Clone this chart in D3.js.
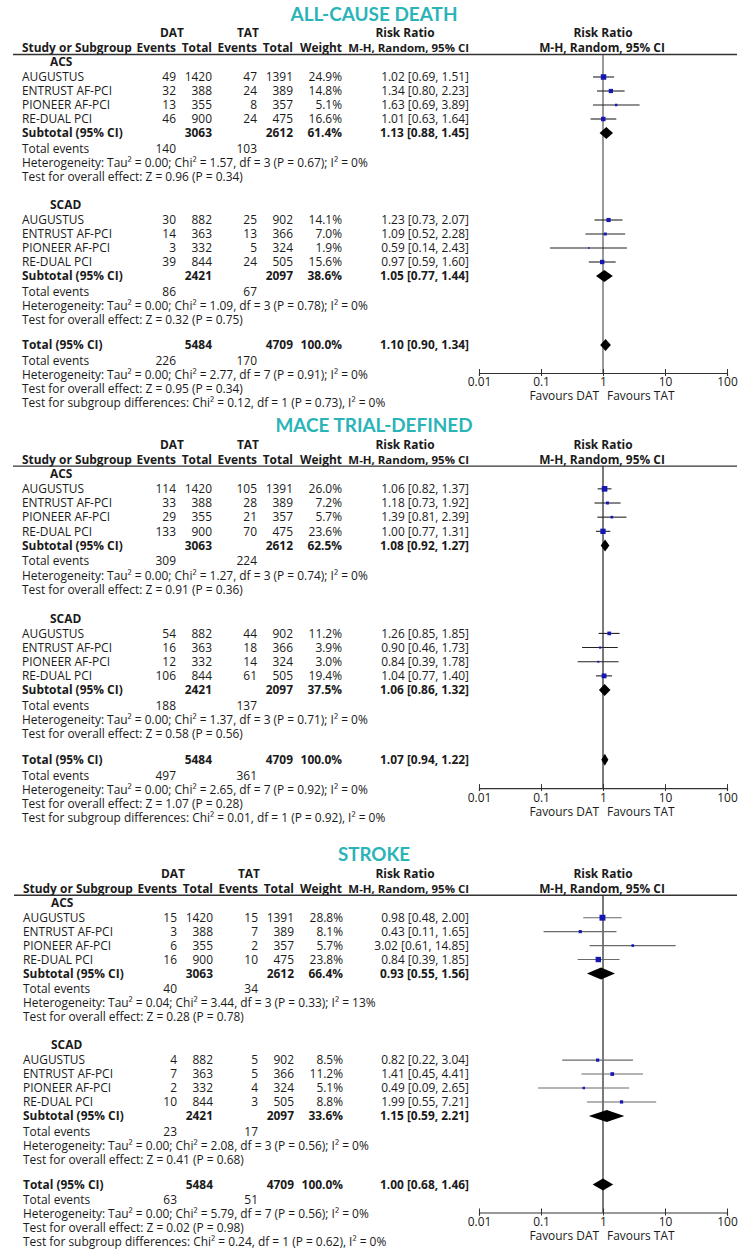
<!DOCTYPE html>
<html><head><meta charset="utf-8">
<script src="https://cdn.jsdelivr.net/npm/d3@7"></script>
<style>body{margin:0;background:#fff} svg{display:block}</style>
</head><body><svg id="c" width="749" height="1251"></svg>
<script>
// ---------------- DATA ----------------
const outcomes = ["ALL-CAUSE DEATH", "MACE TRIAL-DEFINED", "STROKE"];
const subgroups = ["ACS", "SCAD"];
const studies = ["AUGUSTUS", "ENTRUST AF-PCI", "PIONEER AF-PCI", "RE-DUAL PCI"];
const tickValues = [0.01, 0.1, 1, 10, 100];
const tickLabels = ["0.01", "0.1", "1", "10", "100"];

// All-cause death
const deathDatEvents = [[49, 32, 13, 46], [30, 14, 3, 39]];
const deathDatTotal = [[1420, 388, 355, 900], [882, 363, 332, 844]];
const deathTatEvents = [[47, 24, 8, 24], [25, 13, 5, 24]];
const deathTatTotal = [[1391, 389, 357, 475], [902, 366, 324, 505]];
const deathWeight = [[24.9, 14.8, 5.1, 16.6], [14.1, 7.0, 1.9, 15.6]];
const deathRR = [[1.02, 1.34, 1.63, 1.01], [1.23, 1.09, 0.59, 0.97]];
const deathLo = [[0.69, 0.80, 0.69, 0.63], [0.73, 0.52, 0.14, 0.59]];
const deathHi = [[1.51, 2.23, 3.89, 1.64], [2.07, 2.28, 2.43, 1.60]];
const deathSubDatTotal = [3063, 2421];
const deathSubTatTotal = [2612, 2097];
const deathSubWeight = [61.4, 38.6];
const deathSubRR = [1.13, 1.05];
const deathSubLo = [0.88, 0.77];
const deathSubHi = [1.45, 1.44];
const deathSubDatEvents = [140, 86];
const deathSubTatEvents = [103, 67];
const deathSubHet = ["Heterogeneity: Tau² = 0.00; Chi² = 1.57, df = 3 (P = 0.67); I² = 0%",
                     "Heterogeneity: Tau² = 0.00; Chi² = 1.09, df = 3 (P = 0.78); I² = 0%"];
const deathSubZ = ["Test for overall effect: Z = 0.96 (P = 0.34)", "Test for overall effect: Z = 0.32 (P = 0.75)"];
const deathTotals = [5484, 4709];
const deathTotalWeight = 100.0;
const deathTotalRR = [1.10, 0.90, 1.34];
const deathTotalEvents = [226, 170];
const deathTotalHet = "Heterogeneity: Tau² = 0.00; Chi² = 2.77, df = 7 (P = 0.91); I² = 0%";
const deathTotalZ = "Test for overall effect: Z = 0.95 (P = 0.34)";
const deathSubDiff = "Test for subgroup differences: Chi² = 0.12, df = 1 (P = 0.73), I² = 0%";

// MACE trial-defined
const maceDatEvents = [[114, 33, 29, 133], [54, 16, 12, 106]];
const maceDatTotal = [[1420, 388, 355, 900], [882, 363, 332, 844]];
const maceTatEvents = [[105, 28, 21, 70], [44, 18, 14, 61]];
const maceTatTotal = [[1391, 389, 357, 475], [902, 366, 324, 505]];
const maceWeight = [[26.0, 7.2, 5.7, 23.6], [11.2, 3.9, 3.0, 19.4]];
const maceRR = [[1.06, 1.18, 1.39, 1.00], [1.26, 0.90, 0.84, 1.04]];
const maceLo = [[0.82, 0.73, 0.81, 0.77], [0.85, 0.46, 0.39, 0.77]];
const maceHi = [[1.37, 1.92, 2.39, 1.31], [1.85, 1.73, 1.78, 1.40]];
const maceSubDatTotal = [3063, 2421];
const maceSubTatTotal = [2612, 2097];
const maceSubWeight = [62.5, 37.5];
const maceSubRR = [1.08, 1.06];
const maceSubLo = [0.92, 0.86];
const maceSubHi = [1.27, 1.32];
const maceSubDatEvents = [309, 188];
const maceSubTatEvents = [224, 137];
const maceSubHet = ["Heterogeneity: Tau² = 0.00; Chi² = 1.27, df = 3 (P = 0.74); I² = 0%",
                    "Heterogeneity: Tau² = 0.00; Chi² = 1.37, df = 3 (P = 0.71); I² = 0%"];
const maceSubZ = ["Test for overall effect: Z = 0.91 (P = 0.36)", "Test for overall effect: Z = 0.58 (P = 0.56)"];
const maceTotals = [5484, 4709];
const maceTotalWeight = 100.0;
const maceTotalRR = [1.07, 0.94, 1.22];
const maceTotalEvents = [497, 361];
const maceTotalHet = "Heterogeneity: Tau² = 0.00; Chi² = 2.65, df = 7 (P = 0.92); I² = 0%";
const maceTotalZ = "Test for overall effect: Z = 1.07 (P = 0.28)";
const maceSubDiff = "Test for subgroup differences: Chi² = 0.01, df = 1 (P = 0.92), I² = 0%";

// Stroke
const strokeDatEvents = [[15, 3, 6, 16], [4, 7, 2, 10]];
const strokeDatTotal = [[1420, 388, 355, 900], [882, 363, 332, 844]];
const strokeTatEvents = [[15, 7, 2, 10], [5, 5, 4, 3]];
const strokeTatTotal = [[1391, 389, 357, 475], [902, 366, 324, 505]];
const strokeWeight = [[28.8, 8.1, 5.7, 23.8], [8.5, 11.2, 5.1, 8.8]];
const strokeRR = [[0.98, 0.43, 3.02, 0.84], [0.82, 1.41, 0.49, 1.99]];
const strokeLo = [[0.48, 0.11, 0.61, 0.39], [0.22, 0.45, 0.09, 0.55]];
const strokeHi = [[2.00, 1.65, 14.85, 1.85], [3.04, 4.41, 2.65, 7.21]];
const strokeSubDatTotal = [3063, 2421];
const strokeSubTatTotal = [2612, 2097];
const strokeSubWeight = [66.4, 33.6];
const strokeSubRR = [0.93, 1.15];
const strokeSubLo = [0.55, 0.59];
const strokeSubHi = [1.56, 2.21];
const strokeSubDatEvents = [40, 23];
const strokeSubTatEvents = [34, 17];
const strokeSubHet = ["Heterogeneity: Tau² = 0.04; Chi² = 3.44, df = 3 (P = 0.33); I² = 13%",
                      "Heterogeneity: Tau² = 0.00; Chi² = 2.08, df = 3 (P = 0.56); I² = 0%"];
const strokeSubZ = ["Test for overall effect: Z = 0.28 (P = 0.78)", "Test for overall effect: Z = 0.41 (P = 0.68)"];
const strokeTotals = [5484, 4709];
const strokeTotalWeight = 100.0;
const strokeTotalRR = [1.00, 0.68, 1.46];
const strokeTotalEvents = [63, 51];
const strokeTotalHet = "Heterogeneity: Tau² = 0.00; Chi² = 5.79, df = 7 (P = 0.56); I² = 0%";
const strokeTotalZ = "Test for overall effect: Z = 0.02 (P = 0.98)";
const strokeSubDiff = "Test for subgroup differences: Chi² = 0.24, df = 1 (P = 0.62), I² = 0%";

// Build panel table from the arrays
function mk(title, de, dt, te, tt, w, rr, lo, hi, sdt, stt, sw, srr, slo, shi, sde, ste, shet, sz, tots, tw, trr, tev, thet, tz, sdiff) {
  return {title, de, dt, te, tt, w, rr, lo, hi, sdt, stt, sw, srr, slo, shi, sde, ste, shet, sz, tots, tw, trr, tev, thet, tz, sdiff};
}
const panels = [
  mk(outcomes[0], deathDatEvents, deathDatTotal, deathTatEvents, deathTatTotal, deathWeight, deathRR, deathLo, deathHi,
     deathSubDatTotal, deathSubTatTotal, deathSubWeight, deathSubRR, deathSubLo, deathSubHi, deathSubDatEvents, deathSubTatEvents,
     deathSubHet, deathSubZ, deathTotals, deathTotalWeight, deathTotalRR, deathTotalEvents, deathTotalHet, deathTotalZ, deathSubDiff),
  mk(outcomes[1], maceDatEvents, maceDatTotal, maceTatEvents, maceTatTotal, maceWeight, maceRR, maceLo, maceHi,
     maceSubDatTotal, maceSubTatTotal, maceSubWeight, maceSubRR, maceSubLo, maceSubHi, maceSubDatEvents, maceSubTatEvents,
     maceSubHet, maceSubZ, maceTotals, maceTotalWeight, maceTotalRR, maceTotalEvents, maceTotalHet, maceTotalZ, maceSubDiff),
  mk(outcomes[2], strokeDatEvents, strokeDatTotal, strokeTatEvents, strokeTatTotal, strokeWeight, strokeRR, strokeLo, strokeHi,
     strokeSubDatTotal, strokeSubTatTotal, strokeSubWeight, strokeSubRR, strokeSubLo, strokeSubHi, strokeSubDatEvents, strokeSubTatEvents,
     strokeSubHet, strokeSubZ, strokeTotals, strokeTotalWeight, strokeTotalRR, strokeTotalEvents, strokeTotalHet, strokeTotalZ, strokeSubDiff)
];

// ---------------- LAYOUT / STYLE ----------------
const FONT = "'Open Sans', 'Noto Sans', sans-serif";
const TITLE_FONT = "Lato, 'Open Sans', sans-serif";
const TEAL = "#2ab4b8";
const INK = "#1a1a1a";
const BLUE = "#1616b4";
const panelOffset = [0, 411, 841];
const panelScale = [1, 1.011, 0.996];
const panelDx = [0, 0, 1];
const titleWidth = [167, 197, 72];
const ciColor = ["#222", "#222", "#6a6a6a"];
const nullColor = ["#555", "#222", "#222"];

const svg = d3.select("#c");

// calibrate body font size against the reference width of a heterogeneity line
const probe = svg.append("text").style("font-family", FONT).style("font-size", "10px").text(deathSubHet[0]);
const FS = Math.min(12, 10 * 346 / probe.node().getComputedTextLength());
probe.remove();

const fmt2 = d => d.toFixed(2);
const fmtW = d => d.toFixed(1) + "%";
const fmtCI = (r, l, h) => `${fmt2(r)} [${fmt2(l)}, ${fmt2(h)}]`;

function txt(g, x, y, s, anchor, bold, size) {
  return g.append("text").attr("x", x).attr("y", y).attr("dy", "0.36em")
    .attr("text-anchor", anchor || "start")
    .style("font-family", FONT).style("font-size", (size || FS) + "px")
    .style("font-weight", bold ? "bold" : "normal").style("fill", INK).text(s);
}

panels.forEach((p, pi) => {
  const Y = r => panelOffset[pi] + panelScale[pi] * r;
  const dx = panelDx[pi];
  const g = svg.append("g");
  const x = d3.scaleLog().domain([0.01, 100]).range([479, 727]);

  // title
  g.append("text").attr("x", 374).attr("y", Y(20.5)).attr("text-anchor", "middle")
    .style("font-family", TITLE_FONT).style("font-size", "19px").style("font-weight", "bold")
    .style("fill", TEAL).attr("textLength", titleWidth[pi]).attr("lengthAdjust", "spacingAndGlyphs")
    .text(p.title);

  // headers
  const h1 = 33, h2 = 48;
  txt(g, 172 + dx, Y(h1), "DAT", "middle", true);
  txt(g, 248 + dx, Y(h1), "TAT", "middle", true);
  txt(g, 405, Y(h1), "Risk Ratio", "middle", true);
  txt(g, 603, Y(h1), "Risk Ratio", "middle", true);
  txt(g, 22 + dx, Y(h2), "Study or Subgroup", "start", true);
  txt(g, 176 + dx, Y(h2), "Events", "end", true);
  txt(g, 212 + dx, Y(h2), "Total", "end", true);
  txt(g, 257 + dx, Y(h2), "Events", "end", true);
  txt(g, 293 + dx, Y(h2), "Total", "end", true);
  txt(g, 342, Y(h2), "Weight", "end", true);
  txt(g, 469, Y(h2), "M-H, Random, 95% CI", "end", true, FS * 0.96);
  txt(g, 602, Y(h2), "M-H, Random, 95% CI", "middle", true);
  g.append("line").attr("x1", 13 + dx).attr("x2", 737).attr("y1", Y(54.5)).attr("y2", Y(54.5))
    .attr("stroke", "#333").attr("stroke-width", 1.4);

  // null line
  g.append("line").attr("x1", x(1)).attr("x2", x(1)).attr("y1", Y(54.5)).attr("y2", Y(373))
    .attr("stroke", nullColor[pi]).attr("stroke-width", 1.2);

  const diamond = (r, l, h, yy, hh) =>
    g.append("polygon").attr("points", [[x(l), yy], [x(r), yy - hh / 2], [x(h), yy], [x(r), yy + hh / 2]].map(d => d.join(",")).join(" "))
      .attr("fill", "#000");

  const groupStart = [62, 205];
  subgroups.forEach((sg, si) => {
    const y0 = groupStart[si];
    txt(g, 50 + dx, Y(y0), sg, "start", true);
    studies.forEach((st, k) => {
      const yy = Y(y0 + 15 + 14 * k);
      txt(g, 22 + dx, yy, st);
      txt(g, 176 + dx, yy, p.de[si][k], "end");
      txt(g, 212 + dx, yy, p.dt[si][k], "end");
      txt(g, 257 + dx, yy, p.te[si][k], "end");
      txt(g, 293 + dx, yy, p.tt[si][k], "end");
      txt(g, 342 + dx, yy, fmtW(p.w[si][k]), "end");
      txt(g, 469, yy, fmtCI(p.rr[si][k], p.lo[si][k], p.hi[si][k]), "end");
      g.append("line").attr("x1", x(p.lo[si][k])).attr("x2", x(p.hi[si][k])).attr("y1", yy).attr("y2", yy)
        .attr("stroke", ciColor[pi]).attr("stroke-width", 1.1);
      const side = 1.1 * Math.sqrt(p.w[si][k]);
      g.append("rect").attr("x", x(p.rr[si][k]) - side / 2).attr("y", yy - side / 2)
        .attr("width", side).attr("height", side).attr("fill", BLUE);
    });
    const ys = Y(y0 + 71);
    txt(g, 22 + dx, ys, "Subtotal (95% CI)", "start", true);
    txt(g, 212 + dx, ys, p.sdt[si], "end", true);
    txt(g, 293 + dx, ys, p.stt[si], "end", true);
    txt(g, 342 + dx, ys, fmtW(p.sw[si]), "end", true);
    txt(g, 469, ys, fmtCI(p.srr[si], p.slo[si], p.shi[si]), "end", true);
    diamond(p.srr[si], p.slo[si], p.shi[si], ys, 12);
    txt(g, 22 + dx, Y(y0 + 86.5), "Total events");
    txt(g, 176 + dx, Y(y0 + 86.5), p.sde[si], "end");
    txt(g, 257 + dx, Y(y0 + 86.5), p.ste[si], "end");
    txt(g, 22 + dx, Y(y0 + 100.5), p.shet[si]);
    txt(g, 22 + dx, Y(y0 + 114.5), p.sz[si]);
  });

  // overall total
  const yt = Y(345);
  txt(g, 22 + dx, yt, "Total (95% CI)", "start", true);
  txt(g, 212 + dx, yt, p.tots[0], "end", true);
  txt(g, 293 + dx, yt, p.tots[1], "end", true);
  txt(g, 342 + dx, yt, fmtW(p.tw), "end", true);
  txt(g, 469, yt, fmtCI(p.trr[0], p.trr[1], p.trr[2]), "end", true);
  diamond(p.trr[0], p.trr[1], p.trr[2], yt, 12);
  txt(g, 22 + dx, Y(360.5), "Total events");
  txt(g, 176 + dx, Y(360.5), p.tev[0], "end");
  txt(g, 257 + dx, Y(360.5), p.tev[1], "end");
  txt(g, 22 + dx, Y(374.5), p.thet);
  txt(g, 22 + dx, Y(388.5), p.tz);
  txt(g, 22 + dx, Y(402.5), p.sdiff);

  // axis
  const ax = g.append("g").attr("transform", `translate(0,${Y(373)})`)
    .call(d3.axisBottom(x).tickValues(tickValues).tickFormat((d, i) => tickLabels[i])
      .tickSizeOuter(0).tickSize(3).tickPadding(2));
  ax.select(".domain").attr("stroke", "#333").attr("stroke-width", 1.2);
  ax.selectAll(".tick line").attr("y1", -4).attr("y2", 3).attr("stroke", "#333");
  ax.selectAll(".tick text").style("font-family", FONT).style("font-size", FS + "px").attr("fill", INK);
  txt(g, 599, Y(396), "Favours DAT", "end");
  txt(g, 607, Y(396), "Favours TAT", "start");
});
</script>
</body></html>
